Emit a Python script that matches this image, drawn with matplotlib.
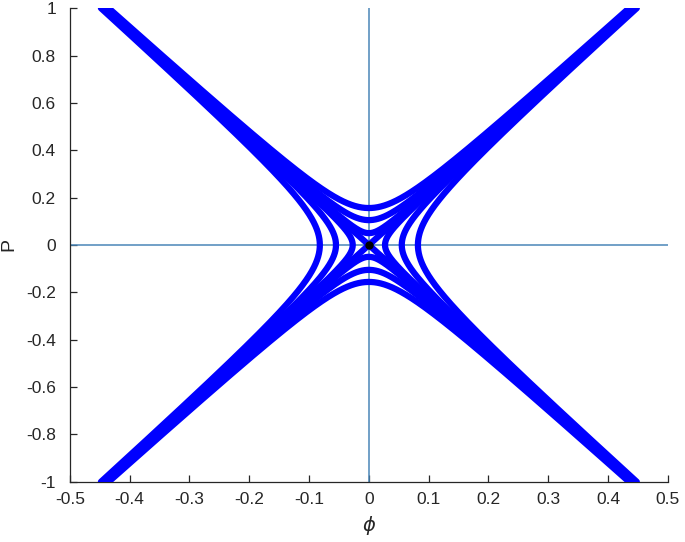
import numpy as np
import matplotlib
matplotlib.use("Agg")
import matplotlib.pyplot as plt

plt.rcParams['font.family'] = ['Liberation Sans', 'DejaVu Sans']

# asymptote slope dP/dphi
slope = 2.27
# hyperbolas opening up/down: vertex P values
p_vertices = [0.05, 0.105, 0.156]
# hyperbolas opening left/right: vertex phi values
phi_vertices = [0.027, 0.055, 0.082]
xticks = [-0.5, -0.4, -0.3, -0.2, -0.1, 0, 0.1, 0.2, 0.3, 0.4, 0.5]
yticks = [-1, -0.8, -0.6, -0.4, -0.2, 0, 0.2, 0.4, 0.6, 0.8, 1]

fig = plt.figure(figsize=(6.85, 5.42), dpi=100)
ax = fig.add_axes([0.102, 0.111, 0.873, 0.874])

blue = '#0000FF'
lw = 4.5

# asymptotes
for sgn in (1, -1):
    ph = np.linspace(-1 / slope, 1 / slope, 50)
    ax.plot(ph, sgn * slope * ph, color=blue, lw=lw, solid_capstyle='round', zorder=3)

for p0 in p_vertices:
    tmax = np.arccosh(1 / p0)
    tt = np.linspace(-tmax, tmax, 800)
    for sgn in (1, -1):
        ax.plot((p0 / slope) * np.sinh(tt), sgn * p0 * np.cosh(tt), color=blue, lw=lw,
                solid_capstyle='round', zorder=3)

for f0 in phi_vertices:
    a = f0 * slope
    tmax = np.arcsinh(1 / a)
    tt = np.linspace(-tmax, tmax, 800)
    for sgn in (1, -1):
        ax.plot(sgn * f0 * np.cosh(tt), a * np.sinh(tt), color=blue, lw=lw,
                solid_capstyle='round', zorder=3)

ax.axhline(0, color='#4a86b8', lw=1.1, zorder=2)
ax.axvline(0, color='#4a86b8', lw=1.1, zorder=2)
ax.plot([0], [0], 'o', color='black', ms=5, zorder=5)

ax.set_xlim(-0.5, 0.5)
ax.set_ylim(-1, 1)
ax.set_xticks(xticks)
ax.set_yticks(yticks)
ax.set_xticklabels([f'{v:g}' for v in xticks])
ax.set_yticklabels([f'{v:g}' for v in yticks])
for s in ('top', 'right'):
    ax.spines[s].set_visible(False)
for s in ('left', 'bottom'):
    ax.spines[s].set_color('#262626')
    ax.spines[s].set_linewidth(0.9)
ax.tick_params(direction='in', length=5, colors='#262626', labelsize=12.5, width=0.9)
ax.tick_params(axis='x', pad=7)
ax.tick_params(axis='y', pad=10)
ax.set_xlabel(r'$\phi$', fontsize=14, color='#262626', labelpad=5)
ax.set_ylabel('P', fontsize=14, color='#262626')
ax.yaxis.set_label_coords(-0.088, 0.5)

fig.savefig('out.png', dpi=100)
